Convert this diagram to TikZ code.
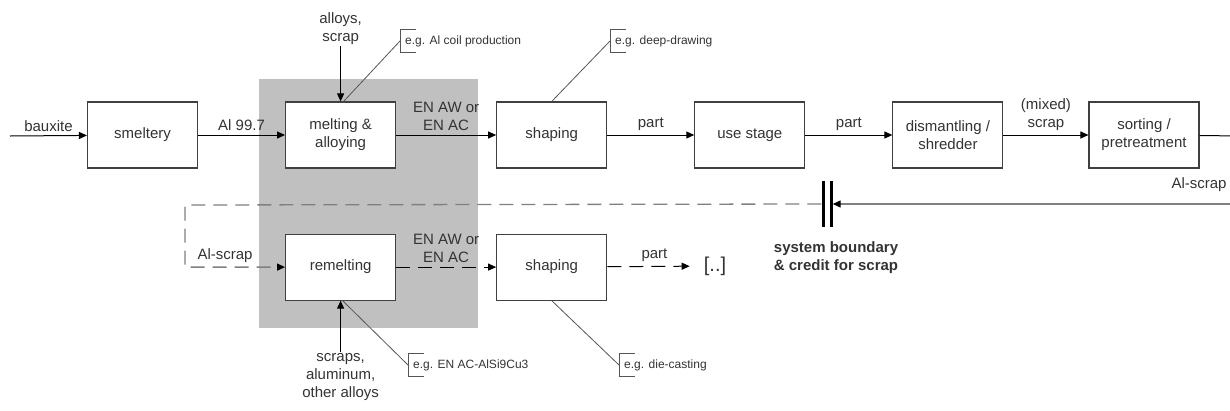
\documentclass[tikz,border=0pt]{standalone}
\usepackage{fontspec}
\setmainfont{Liberation Sans}
\usetikzlibrary{arrows.meta, positioning, backgrounds}
\definecolor{boxline}{HTML}{404040}
\definecolor{txtgray}{HTML}{333333}
\definecolor{bgshade}{HTML}{C0C0C0}
\definecolor{loopgray}{HTML}{808080}
\definecolor{notegray}{HTML}{555555}

\begin{document}
\begin{tikzpicture}[
  x=1pt, y=1pt,
  node distance=87pt,
  proc/.style={rectangle, draw=boxline, line width=1.1pt, fill=white,
               minimum width=110pt, minimum height=66pt, inner sep=2pt,
               font=\fontsize{15}{18}\selectfont, text=txtgray, align=center},
  lbl/.style={font=\fontsize{15}{18}\selectfont, text=txtgray, align=center, inner sep=2pt},
  note/.style={font=\fontsize{12}{14}\selectfont, text=txtgray, anchor=west,
               minimum height=22pt, inner xsep=5pt, inner ysep=0pt},
  arr/.style={-{Triangle[length=8pt, width=7pt]}, line width=1pt, color=black},
  backarr/.style={-{Triangle[length=8pt, width=7pt, color=black]}, line width=1.3pt, color=loopgray},
  lead/.style={draw=notegray, line width=0.8pt},
  dashln/.style={dash pattern=on 14pt off 8pt},
  bar/.style={rectangle, fill=black, minimum width=3pt, minimum height=46pt, inner sep=0pt}
]
\useasboundingbox (0,0) rectangle (1230,-410);

\node[proc] (smelt) at (142.5,-135) {smeltery};
\node[proc, right=of smelt] (melt) {melting \&\\alloying};
\node[proc, right=100pt of melt] (shp1) {shaping};
\node[proc, right=of shp1] (use) {use stage};
\node[proc, right=of use] (dism) {dismantling /\\shredder};
\node[proc, right=85pt of dism] (sort) {sorting /\\pretreatment};
\node[proc, below=65pt of melt] (remelt) {remelting};
\node[proc, below=65pt of shp1] (shp2) {shaping};

\node[lbl, above=55pt of melt] (alloys) {alloys,\\scrap};
\node[lbl, below=51pt of remelt] (scraps) {scraps,\\aluminum,\\other alloys};

\node[note] (coil) at (400,-41) {e.g. Al coil production};
\node[note] (deep) at (610,-41) {e.g. deep-drawing};
\node[note] (alsi) at (408,-365) {e.g. EN AC-AlSi9Cu3};
\node[note] (die)  at (619,-365) {e.g. die-casting};

\node[lbl, font=\fontsize{20}{24}\selectfont] (dots) at (715,-266) {[..]};
\node[lbl] (alscr) at (1199,-185) {Al-scrap};
\node[lbl, align=left, font=\fontsize{15}{18}\selectfont\bfseries] (sysb) at (836,-258)
  {system boundary\\\& credit for scrap};

\node[bar] (bara) at (823,-204) {};
\node[bar] (barb) at (831,-204) {};

\coordinate (bx) at (10,-136);
\coordinate (rt) at (1245,-136);
\coordinate (lc) at (185,-205);

\begin{scope}[on background layer]
  \fill[bgshade] (259,-79) rectangle (478,-328);
\end{scope}

\draw[arr] (bx) -- node[lbl, above=2pt] {bauxite} (smelt);
\draw[arr] (smelt) -- node[lbl, above=2pt] {Al 99.7} (melt);
\draw[arr] (melt) -- node[lbl, above=2pt] {EN AW or\\EN AC} (shp1);
\draw[arr] (shp1) -- node[lbl, above=2pt] {part} (use);
\draw[arr] (use) -- node[lbl, above=2pt] {part} (dism);
\draw[arr] (dism) -- node[lbl, above=2pt] {(mixed)\\scrap} (sort);
\draw[line width=1pt] (sort) -- (rt);
\draw[backarr] (rt) |- (barb.east);
\draw[backarr, dashln] (bara.west) -- (lc) |- node[lbl, pos=0.7, above=2pt] {Al-scrap} (remelt.west);

\draw[arr] (alloys) -- (melt);
\draw[arr] (scraps) -- (remelt);
\draw[arr, dashln] (remelt) -- node[lbl, above=2pt] {EN AW or\\EN AC} (shp2);
\draw[arr, dashln, shorten >=12pt] (shp2) -- node[lbl, above=2pt] {part} (dots);

\draw[lead] ([xshift=3pt]melt.north) -- (coil.west);
\draw[lead] (shp1.north) -- (deep.west);
\draw[lead] ([xshift=2pt]remelt.south) -- (alsi.west);
\draw[lead] (shp2.south) -- (die.west);
\foreach \n in {coil, deep, alsi, die}
  \draw[lead] ([xshift=16pt]\n.north west) -- (\n.north west)
    -- (\n.south west) -- ([xshift=16pt]\n.south west);
\end{tikzpicture}
\end{document}
